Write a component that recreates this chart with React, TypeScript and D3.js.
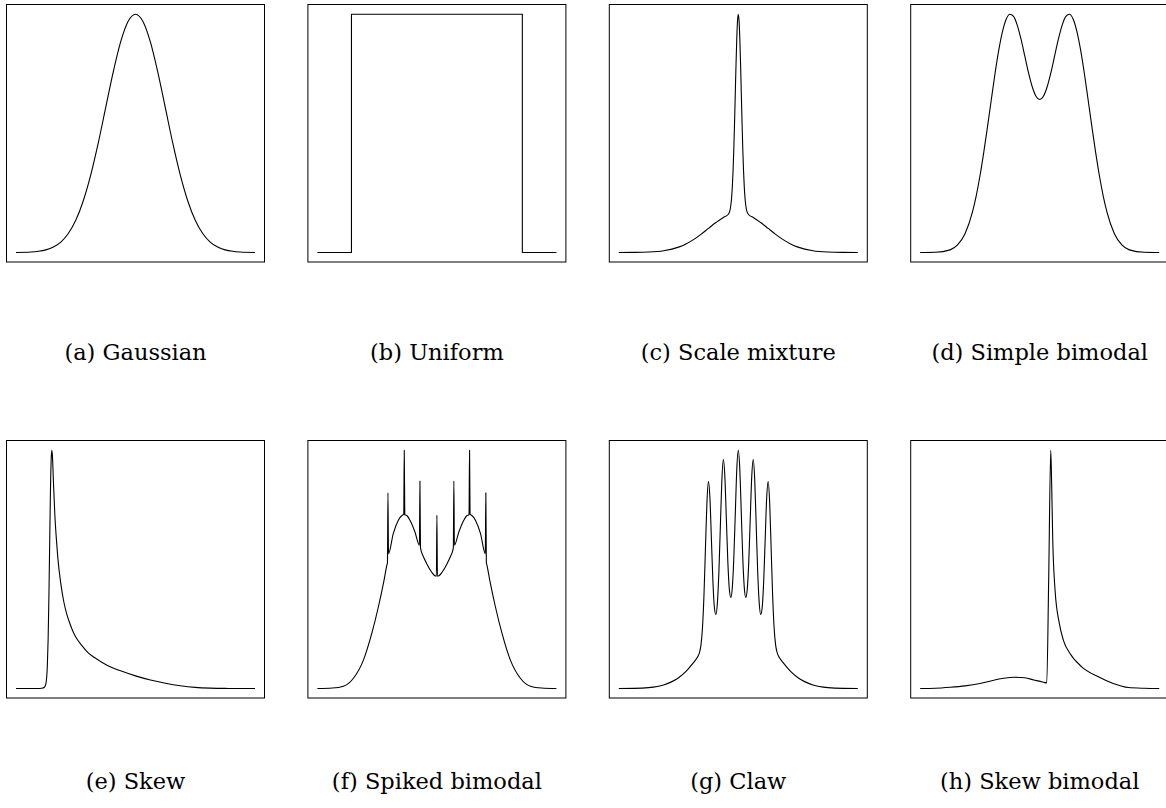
import React from "react";
import * as d3 from "d3";

// ---- data (x in [-4, 4], y = density) ----
const gaussian: [number, number][] = [
  [-4, 0.0003], [-3.5, 0.0022], [-3.25, 0.0051], [-3, 0.0111], [-2.75, 0.0228], [-2.5, 0.0439],
  [-2.25, 0.0796], [-2, 0.1353], [-1.75, 0.2163], [-1.5, 0.3247], [-1.25, 0.4578], [-1, 0.6065],
  [-0.75, 0.7548], [-0.5, 0.8825], [-0.25, 0.9692], [0, 1], [0.25, 0.9692], [0.5, 0.8825],
  [0.75, 0.7548], [1, 0.6065], [1.25, 0.4578], [1.5, 0.3247], [1.75, 0.2163], [2, 0.1353],
  [2.25, 0.0796], [2.5, 0.0439], [2.75, 0.0228], [3, 0.0111], [3.25, 0.0051], [3.5, 0.0022], [4, 0.0003],
];

const uniform: [number, number][] = [
  [-4, 0], [-2.86, 0], [-2.86, 1], [2.86, 1], [2.86, 0], [4, 0],
];

const scaleMixture: [number, number][] = [
  [-4, 0], [-3.5, 0.0004], [-3, 0.0019], [-2.5, 0.0073], [-2, 0.0226], [-1.75, 0.0361], [-1.5, 0.0541],
  [-1.25, 0.0763], [-1, 0.1011], [-0.75, 0.1258], [-0.5, 0.1471], [-0.4, 0.1536], [-0.35, 0.1584],
  [-0.3, 0.1686], [-0.275, 0.1794], [-0.25, 0.1981], [-0.225, 0.2288], [-0.2, 0.2762], [-0.175, 0.3443],
  [-0.15, 0.4354], [-0.125, 0.5469], [-0.1, 0.6713], [-0.075, 0.7952], [-0.05, 0.9015], [-0.025, 0.9743],
  [0, 1], [0.025, 0.9743], [0.05, 0.9015], [0.075, 0.7952], [0.1, 0.6713], [0.125, 0.5469], [0.15, 0.4354],
  [0.175, 0.3443], [0.2, 0.2762], [0.225, 0.2288], [0.25, 0.1981], [0.275, 0.1794], [0.3, 0.1686],
  [0.35, 0.1584], [0.4, 0.1536], [0.5, 0.1471], [0.75, 0.1258], [1, 0.1011], [1.25, 0.0763], [1.5, 0.0541],
  [1.75, 0.0361], [2, 0.0226], [2.5, 0.0073], [3, 0.0019], [3.5, 0.0004], [4, 0],
];

const simpleBimodal: [number, number][] = [
  [-4, 0], [-3.5, 0.0009], [-3, 0.011], [-2.75, 0.0316], [-2.5, 0.0787], [-2.25, 0.1705], [-2.125, 0.238],
  [-2, 0.321], [-1.875, 0.418], [-1.75, 0.525], [-1.625, 0.637], [-1.5, 0.747], [-1.375, 0.846],
  [-1.25, 0.925], [-1.125, 0.978], [-1, 1.0], [-0.875, 0.9905], [-0.75, 0.953], [-0.625, 0.895],
  [-0.5, 0.825], [-0.375, 0.755], [-0.25, 0.6956], [-0.125, 0.656], [0, 0.642], [0.125, 0.656],
  [0.25, 0.6956], [0.375, 0.755], [0.5, 0.825], [0.625, 0.895], [0.75, 0.953], [0.875, 0.9905], [1, 1.0],
  [1.125, 0.978], [1.25, 0.925], [1.375, 0.846], [1.5, 0.747], [1.625, 0.637], [1.75, 0.525],
  [1.875, 0.418], [2, 0.321], [2.125, 0.238], [2.25, 0.1705], [2.5, 0.0787], [2.75, 0.0316], [3, 0.011],
  [3.5, 0.0009], [4, 0],
];

const skew: [number, number][] = [
  [-4, 0], [-3.5, 0], [-3.2, 0.0003], [-3.1, 0.0023], [-3.05, 0.0051], [-3, 0.0195], [-2.975, 0.0444],
  [-2.95, 0.099], [-2.925, 0.205], [-2.9, 0.373], [-2.875, 0.588], [-2.85, 0.802], [-2.82, 0.97],
  [-2.8, 1.0], [-2.78, 0.974], [-2.75, 0.878], [-2.7, 0.729], [-2.65, 0.63], [-2.6, 0.548], [-2.5, 0.44],
  [-2.4, 0.364], [-2.3, 0.312], [-2.2, 0.274], [-2.1, 0.2415], [-2, 0.216], [-1.8, 0.181], [-1.6, 0.152],
  [-1.4, 0.132], [-1.2, 0.116], [-1, 0.101], [-0.75, 0.0862], [-0.5, 0.0744], [0, 0.053], [0.5, 0.0357],
  [1, 0.0222], [1.5, 0.0117], [2, 0.0048], [2.5, 0.0016], [3, 0.0004], [3.5, 0.0001], [4, 0],
];

const spikedBimodal: [number, number][] = [
  [-4, 0], [-3.5, 0.002], [-3.13, 0.0097], [-2.8, 0.042], [-2.46, 0.119], [-2.18, 0.231], [-1.96, 0.342],
  [-1.77, 0.454], [-1.67, 0.52], [-1.655, 0.527], [-1.638, 0.821], [-1.62, 0.566], [-1.46, 0.65],
  [-1.29, 0.706], [-1.15, 0.728], [-1.11, 0.731], [-1.093, 1.0], [-1.075, 0.729], [-1.0, 0.725],
  [-0.9, 0.706], [-0.735, 0.657], [-0.585, 0.601], [-0.568, 0.871], [-0.55, 0.59], [-0.45, 0.553],
  [-0.345, 0.525], [-0.178, 0.489], [-0.08, 0.474], [-0.017, 0.471], [0, 0.727], [0.017, 0.471],
  [0.08, 0.474], [0.178, 0.489], [0.345, 0.525], [0.45, 0.553], [0.55, 0.59], [0.568, 0.871],
  [0.585, 0.601], [0.735, 0.657], [0.9, 0.706], [1.0, 0.725], [1.075, 0.729], [1.093, 1.0], [1.11, 0.731],
  [1.15, 0.728], [1.29, 0.706], [1.46, 0.65], [1.62, 0.566], [1.638, 0.821], [1.655, 0.527], [1.67, 0.52],
  [1.77, 0.454], [1.96, 0.342], [2.18, 0.231], [2.46, 0.119], [2.8, 0.042], [3.13, 0.0097], [3.5, 0.002], [4, 0],
];

const claw: [number, number][] = [
  [-4, 0.0001], [-3.5, 0.0004], [-3, 0.0022], [-2.5, 0.0088], [-2, 0.027], [-1.75, 0.0431], [-1.5, 0.0648],
  [-1.4, 0.0749], [-1.35, 0.0811], [-1.3, 0.0902], [-1.25, 0.1088], [-1.2, 0.1512], [-1.15, 0.2325],
  [-1.1, 0.3509], [-1.05, 0.4669], [-1, 0.5199], [-0.95, 0.4789], [-0.9, 0.375], [-0.85, 0.2693],
  [-0.8, 0.2034], [-0.75, 0.1856], [-0.7, 0.215], [-0.65, 0.292], [-0.6, 0.4089], [-0.55, 0.5233],
  [-0.5, 0.5749], [-0.45, 0.532], [-0.4, 0.426], [-0.35, 0.318], [-0.3, 0.2491], [-0.25, 0.2284],
  [-0.2, 0.2539], [-0.15, 0.3277], [-0.1, 0.4405], [-0.05, 0.5513], [0, 0.5984], [0.05, 0.5513],
  [0.1, 0.4405], [0.15, 0.3277], [0.2, 0.2539], [0.25, 0.2284], [0.3, 0.2491], [0.35, 0.318], [0.4, 0.426],
  [0.45, 0.532], [0.5, 0.5749], [0.55, 0.5233], [0.6, 0.4089], [0.65, 0.292], [0.7, 0.215], [0.75, 0.1856],
  [0.8, 0.2034], [0.85, 0.2693], [0.9, 0.375], [0.95, 0.4789], [1, 0.5199], [1.05, 0.4669], [1.1, 0.3509],
  [1.15, 0.2325], [1.2, 0.1512], [1.25, 0.1088], [1.3, 0.0902], [1.35, 0.0811], [1.4, 0.0749], [1.5, 0.0648],
  [1.75, 0.0431], [2, 0.027], [2.5, 0.0088], [3, 0.0022], [3.5, 0.0004], [4, 0.0001],
];

const skewBimodal: [number, number][] = [
  [-4, 0], [-3.5, 0.001], [-3, 0.005], [-2.5, 0.011], [-2, 0.021], [-1.5, 0.036], [-1.2, 0.043],
  [-0.85, 0.047], [-0.5, 0.045], [-0.2, 0.036], [0.1, 0.027], [0.236, 0.0235], [0.3, 0.45], [0.37, 1.0],
  [0.4, 0.86], [0.437, 0.622], [0.514, 0.413], [0.657, 0.273], [0.791, 0.203], [1.015, 0.147],
  [1.406, 0.091], [1.962, 0.049], [2.46, 0.021], [2.97, 0.004], [3.5, 0.001], [4, 0],
];

const captions = [
  "(a) Gaussian", "(b) Uniform", "(c) Scale mixture", "(d) Simple bimodal",
  "(e) Skew", "(f) Spiked bimodal", "(g) Claw", "(h) Skew bimodal",
];

const xDomain: [number, number] = [-4, 4];

const series = [gaussian, uniform, scaleMixture, simpleBimodal, skew, spikedBimodal, claw, skewBimodal];

// ---- layout ----
const W = 1166;
const H = 808;
const PANEL_W = 258;
const PANEL_H = 257.5;
const COL0 = 6.5;
const COL_STEP = 301.4;
const ROW_TOPS = [4.5, 440.5];
const CAPTION_Y = [360, 789];

export default function App() {
  return (
    <svg
      width={W}
      height={H}
      viewBox={`0 0 ${W} ${H}`}
      style={{ position: "absolute", left: 0, top: 0, background: "#fff" }}
    >
      <rect x={0} y={0} width={W} height={H} fill="#fff" />
      {series.map((data, i) => {
        const col = i % 4;
        const row = Math.floor(i / 4);
        const left = COL0 + col * COL_STEP;
        const top = ROW_TOPS[row];
        const x = d3.scaleLinear().domain(xDomain).range([left + 9.5, left + 248.5]);
        const y = d3
          .scaleLinear()
          .domain([0, d3.max(data, (d) => d[1]) as number])
          .range([top + 248, top + 9.7]);
        const curve = i === 1 ? d3.curveLinear : d3.curveMonotoneX;
        const line = d3
          .line<[number, number]>()
          .x((d) => x(d[0]))
          .y((d) => y(d[1]))
          .curve(curve);
        return (
          <g key={i}>
            <rect
              x={left}
              y={top}
              width={PANEL_W}
              height={PANEL_H}
              fill="none"
              stroke="#000"
              strokeWidth={1}
            />
            <path d={line(data) || ""} fill="none" stroke="#000" strokeWidth={1.1} strokeLinejoin="round" />
            <text
              x={left + PANEL_W / 2}
              y={CAPTION_Y[row]}
              textAnchor="middle"
              fontFamily="DejaVu Serif"
              fontSize={22.5}
              fill="#000"
            >
              {captions[i]}
            </text>
          </g>
        );
      })}
    </svg>
  );
}
